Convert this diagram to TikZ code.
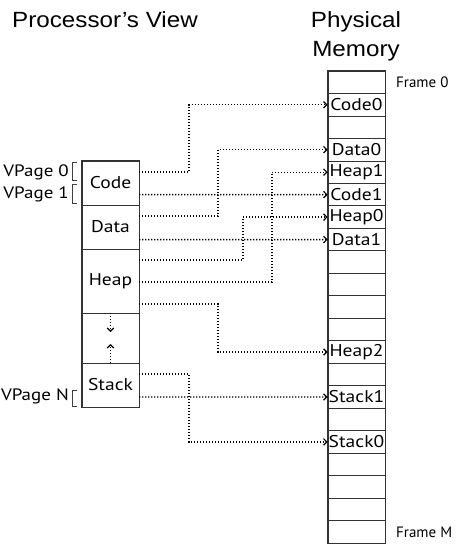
\documentclass[tikz,border=0pt]{standalone}
\usepackage{fontspec}
\setmainfont{Liberation Sans}
\newfontfamily\lbl{PT Sans}
\newfontfamily\lblw[FakeStretch=1.15]{PT Sans}
\newfontfamily\ttlfont[FakeStretch=1.1]{Liberation Sans}
\usetikzlibrary{arrows.meta}
\begin{document}
\begin{tikzpicture}[x=1pt,y=-1pt,
  frame/.style={draw=black!80,line width=0.8pt},
  cell/.style={frame,minimum width=57pt,minimum height=22.48pt,inner sep=0pt,
    font=\lblw\fontsize{17}{17}\selectfont},
  seg/.style={frame,minimum width=57pt,inner sep=0pt,
    font=\lblw\fontsize{17}{17}\selectfont},
  side/.style={font=\lblw\fontsize{16.5}{16.5}\selectfont,inner sep=0pt},
  fside/.style={font=\lbl\fontsize{15}{15}\selectfont,inner sep=0pt},
  title/.style={font=\ttlfont\fontsize{22}{29}\selectfont,align=center,inner sep=0pt},
  link/.style={line width=1.3pt,dash pattern=on 1.3pt off 1.7pt,
    -{Straight Barb[length=3.2pt,width=6.5pt,line width=1.2pt]}},
  brk/.style={draw=black!75,line width=0.8pt}
]
\useasboundingbox (0,0) rectangle (468,550);

% titles
\node[title,anchor=base] (t1) at (105,27) {Processor’s View};
\node[title,anchor=base] (t2) at (356,27) {Physical};
\node[title,anchor=base] (t3) at (356,56) {Memory};

% physical memory
\foreach \k/\t in {0/,1/Code0,2/,3/Data0,4/Heap1,5/Code1,6/Heap0,7/Data1,8/,9/,10/,11/,12/Heap2,13/,14/Stack1,15/,16/Stack0,17/,18/,19/,20/}{
  \node[cell] (m\k) at (356.5,{71+(\k+0.5)*22.48}) {\t};
}
\draw[draw=black!80,line width=1.3pt] (m0.north west) rectangle (m20.south east);
\node[fside,anchor=west] (f0) at (396,82) {Frame 0};
\node[fside,anchor=west] (fm) at (396,532) {Frame M};

% processor view
\node[seg,minimum height=44pt] (code) at (110.5,183) {Code};
\node[seg,minimum height=44pt] (data) at (110.5,227) {Data};
\node[seg,minimum height=64pt] (heap) at (110.5,281) {Heap};
\node[seg,minimum height=50pt] (gap) at (110.5,338) {};
\node[seg,minimum height=44pt] (stack) at (110.5,385) {Stack};
\draw[draw=black!80,line width=1.3pt] (code.north west) rectangle (stack.south east);

% growth arrows
\coordinate (gd) at (110.5,332);
\coordinate (gu) at (110.5,344);
\draw[link] (gap.north) -- (gd);
\draw[link] (gap.south) -- (gu);

% brackets and labels
\draw[brk] (77,162) -- (72,162) -- (72,180) -- (77,180);
\draw[brk] (77,184) -- (72,184) -- (72,203) -- (77,203);
\draw[brk] (77,390) -- (72,390) -- (72,406) -- (77,406);
\node[side,anchor=east] (v0) at (69,172) {VPage 0};
\node[side,anchor=east] (v1) at (69,194) {VPage 1};
\node[side,anchor=east] (vn) at (69,396) {VPage N};

% sources
\coordinate (s0) at (139,172);
\coordinate (s1) at (139,194.6);
\coordinate (s2) at (139,216);
\coordinate (s3) at (139,239.6);
\coordinate (s4) at (139,260);
\coordinate (s5) at (139,282);
\coordinate (s6) at (139,304);
\coordinate (s7) at (139,374);
\coordinate (s8) at (139,397);
% bend columns
\coordinate (b1) at (189,0);
\coordinate (b2) at (218,0);
\coordinate (b3) at (243,0);
\coordinate (b4) at (272,0);

\draw[link] (s0) -- (s0 -| b1) |- (m1.west);
\draw[link] (s1) -- (m5.west);
\draw[link] (s2) -- (s2 -| b2) |- (m3.west);
\draw[link] (s3) -- (m7.west);
\draw[link] (s4) -- (s4 -| b3) |- (m6.west);
\draw[link] (s5) -- (s5 -| b4) |- (m4.west);
\draw[link] (s6) -- (s6 -| b2) |- (m12.west);
\draw[link] (s7) -- (s7 -| b1) |- (m16.west);
\draw[link] (s8) -- (m14.west);
\end{tikzpicture}
\end{document}
